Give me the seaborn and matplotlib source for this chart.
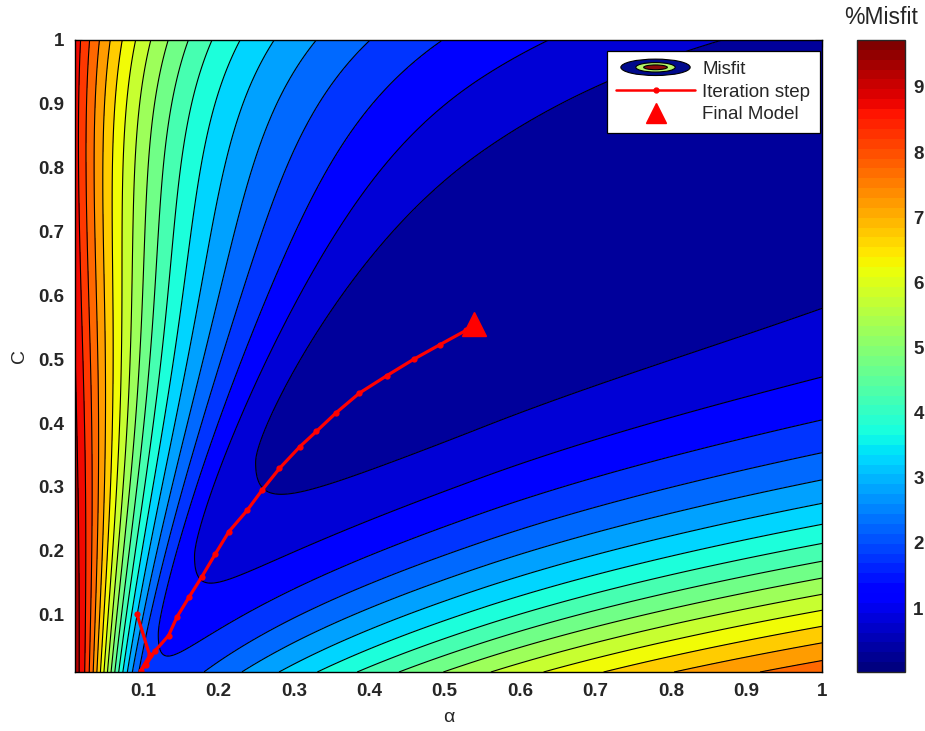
import numpy as np
import matplotlib
matplotlib.use("Agg")
import matplotlib.pyplot as plt
import seaborn as sns
import pandas as pd
from matplotlib.patches import Ellipse
from matplotlib.legend_handler import HandlerBase
from matplotlib.lines import Line2D
from matplotlib.colors import Normalize
from matplotlib.cm import ScalarMappable

# ---- inversion path (alpha, C) and final model ----
path_alpha = [0.092, 0.109, 0.097, 0.104, 0.116, 0.134, 0.145, 0.161, 0.178,
              0.196, 0.214, 0.238, 0.258, 0.281, 0.308, 0.330, 0.356, 0.387,
              0.423, 0.459, 0.494, 0.528, 0.539]
path_c = [0.101, 0.036, 0.012, 0.021, 0.043, 0.067, 0.096, 0.127, 0.159,
          0.195, 0.230, 0.263, 0.295, 0.329, 0.363, 0.387, 0.416, 0.447,
          0.474, 0.500, 0.523, 0.545, 0.555]
final_alpha = [0.539]
final_c = [0.555]

# ---- contour / colour scale settings ----
levels = np.arange(0.0, 10.01, 0.5)
cbar_min, cbar_max = 0.02, 9.72
tick_vals = [0.1, 0.2, 0.3, 0.4, 0.5, 0.6, 0.7, 0.8, 0.9, 1.0]
tick_text = ["0.1", "0.2", "0.3", "0.4", "0.5", "0.6", "0.7", "0.8", "0.9", "1"]
cbar_ticks = [1, 2, 3, 4, 5, 6, 7, 8, 9]


def misfit(a, c):
    """Percent misfit over the (alpha, C) parameter plane."""
    u = a ** 0.3
    # along-valley term
    du = 0.836 - u
    along = np.where(du > 0, 16.0 * du ** 2, 7.0 * du ** 2)
    # cross-valley term
    valley = 0.50 + 0.42 * c + 0.15 * c ** 2
    d = u - valley
    left = d < 0
    s = np.where(left, 9.0 + 31.0 * (1 - c) ** 2, 20.0 * (1 - c) ** 2.4)
    d0 = np.where(left, 0.02 + 0.10 * c, 0.05 + 0.10 * c)
    cross = s * (np.sqrt(d ** 2 + d0 ** 2) - d0)
    p = along + cross
    top = 9.7
    return p / (1 + (p / top) ** 4) ** 0.25


ag = np.linspace(0.01, 1.0, 500)
cg = np.linspace(0.01, 1.0, 500)
A, Cc = np.meshgrid(ag, cg)
M = misfit(A, Cc)

sns.set_style("ticks")
plt.rcParams["font.family"] = ["Liberation Sans", "DejaVu Sans"]

W, H = 925, 731
fig = plt.figure(figsize=(W / 100, H / 100), dpi=100)
ax = fig.add_axes([75 / W, 1 - 672 / H, 747 / W, 632 / H])
cax = fig.add_axes([857 / W, 1 - 672 / H, 48 / W, 632 / H])

jet = plt.get_cmap("jet")
norm = Normalize(vmin=cbar_min, vmax=cbar_max)
ax.contourf(A, Cc, M, levels=levels, cmap=jet, norm=norm)
ax.contour(A, Cc, M, levels=levels, colors="k", linewidths=0.8)

path_df = pd.DataFrame({"alpha": path_alpha, "C": path_c})
sns.lineplot(data=path_df, x="alpha", y="C", sort=False, estimator=None,
             color="red", linewidth=2.3, marker="o", markersize=4.5,
             markeredgewidth=0, ax=ax)
ax.plot(final_alpha, final_c, marker="^", color="red", markersize=17,
        linestyle="none", zorder=5)

ax.set_xlim(0.01, 1.0)
ax.set_ylim(0.01, 1.0)
ax.set_xticks(tick_vals)
ax.set_xticklabels(tick_text)
ax.set_yticks(tick_vals)
ax.set_yticklabels(tick_text)
ax.tick_params(direction="in", top=True, right=True, length=5, width=0.8,
               labelsize=13.5, pad=8)
for lab in ax.get_xticklabels() + ax.get_yticklabels():
    lab.set_fontweight("bold")
ax.set_xlabel("α", fontsize=14)
ax.set_ylabel("C", fontsize=14)
ax.xaxis.set_label_coords(0.5, -(709 - 672) / 632)
ax.yaxis.set_label_coords(-(75 - 28) / 747, 0.5)
for sp in ax.spines.values():
    sp.set_linewidth(1.0)
    sp.set_color("black")


class HandlerMisfit(HandlerBase):
    def create_artists(self, legend, orig_handle, xdescent, ydescent,
                       width, height, fontsize, trans):
        cx = width / 2 - xdescent
        cy = height / 2 - ydescent
        e1 = Ellipse((cx, cy), width * 0.88, height * 1.25, facecolor="#000a8c",
                     edgecolor="k", lw=0.8, transform=trans)
        e2 = Ellipse((cx, cy), width * 0.50, height * 0.72, facecolor="#b4f46a",
                     edgecolor="k", lw=0.8, transform=trans)
        e3 = Ellipse((cx, cy), width * 0.30, height * 0.36, facecolor="#8c0a0a",
                     edgecolor="k", lw=0.8, transform=trans)
        return [e1, e2, e3]


misfit_handle = Ellipse((0, 0), 1, 1)
iter_handle = Line2D([], [], color="red", lw=1.8, marker="o", markersize=3.5)
final_handle = Line2D([], [], color="red", marker="^", markersize=15,
                      linestyle="none")
leg = ax.legend([misfit_handle, iter_handle, final_handle],
                ["Misfit", "Iteration step", "Final Model"],
                handler_map={Ellipse: HandlerMisfit()},
                loc="upper right", bbox_to_anchor=(0.997, 0.982),
                fontsize=13.5, frameon=True, fancybox=False, framealpha=1,
                edgecolor="black", handlelength=4.2, handletextpad=0.4,
                borderpad=0.5, labelspacing=0.3, numpoints=1,
                borderaxespad=0)
leg.get_frame().set_linewidth(0.9)

sm = ScalarMappable(norm=norm, cmap=plt.get_cmap("jet", 64))
cb = fig.colorbar(sm, cax=cax)
cb.set_ticks(cbar_ticks)
cax.tick_params(direction="in", length=6, width=0.8, labelsize=13.5,
                left=True, right=True, pad=6)
for lab in cax.get_yticklabels():
    lab.set_fontweight("bold")
cb.outline.set_linewidth(1.0)
fig.text(881 / W, 1 - 18 / H, "%Misfit", ha="center", va="center",
         fontsize=16.5)

fig.savefig("out.png", dpi=100)
